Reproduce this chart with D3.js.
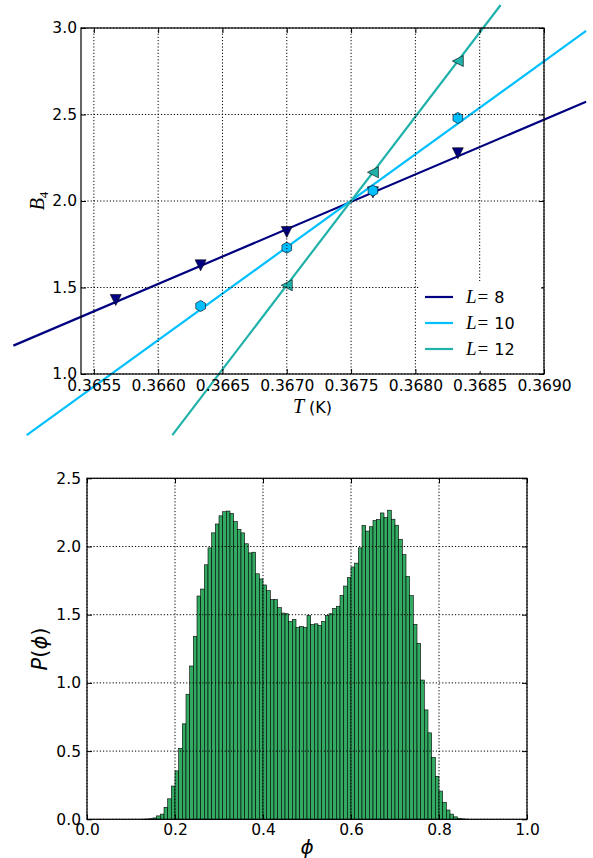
<!DOCTYPE html>
<html><head><meta charset="utf-8">
<script src="https://cdn.jsdelivr.net/npm/d3@7"></script>
<style>
body{margin:0;background:#fff;}
svg{display:block;}
text{font-family:"DejaVu Sans",sans-serif;}
</style></head>
<body>
<svg id="fig" width="593" height="858"></svg>
<script>
// ---------------- DATA ----------------
// Binder cumulant plot
const seriesNames = ["8", "10", "12"];
const T8  = [0.36567, 0.36633, 0.36700, 0.36767, 0.36833];
const B8  = [1.428, 1.628, 1.821, 2.050, 2.276];
const T10 = [0.36633, 0.36700, 0.36767, 0.36833];
const B10 = [1.393, 1.730, 2.060, 2.480];
const T12 = [0.36700, 0.36767, 0.36833];
const B12 = [1.513, 2.166, 2.809];
// fitted straight lines (two end points each)
const fitT8  = [0.364874, 0.369327];
const fitB8  = [1.164, 2.574];
const fitT10 = [0.364978, 0.369327];
const fitB10 = [0.647, 2.983];
const fitT12 = [0.366110, 0.368663];
const fitB12 = [0.647, 3.133];
const tTicks  = [0.3655, 0.3660, 0.3665, 0.3670, 0.3675, 0.3680, 0.3685, 0.3690];
const b4Ticks = [1.0, 1.5, 2.0, 2.5, 3.0];

// Histogram P(phi)
const firstBinLeft = 0.125;
const binWidth = 1 / 120;
const density = [
  0.0005, 0.002, 0.004, 0.010, 0.025, 0.038, 0.088, 0.150, 0.244, 0.355,
  0.520, 0.700, 0.917, 1.124, 1.341, 1.637, 1.688, 1.866, 1.990, 2.100,
  2.165, 2.225, 2.255, 2.260, 2.243, 2.183, 2.126, 2.100, 2.020, 1.953,
  1.958, 1.800, 1.762, 1.718, 1.676, 1.611, 1.611, 1.552, 1.512, 1.507,
  1.450, 1.465, 1.406, 1.413, 1.407, 1.495, 1.428, 1.433, 1.421, 1.450,
  1.495, 1.507, 1.545, 1.562, 1.641, 1.710, 1.772, 1.850, 1.878, 1.990,
  2.155, 2.113, 2.145, 2.190, 2.198, 2.246, 2.213, 2.266, 2.200, 2.156,
  2.053, 1.940, 1.780, 1.640, 1.429, 1.290, 1.021, 0.802, 0.634, 0.454,
  0.315, 0.207, 0.125, 0.068, 0.038, 0.018, 0.007, 0.003, 0.001
];
const phiTicks = [0.0, 0.2, 0.4, 0.6, 0.8, 1.0];
const pTicks   = [0.0, 0.5, 1.0, 1.5, 2.0, 2.5];

// ---------------- DRAW ----------------
const svg = d3.select("#fig");
const TICK = 5, FS = 15.5;

function frame(g, x, y, xt, yt, xfmt, yfmt, xpad, ypad) {
  const [x0, x1] = x.range(), [y0, y1] = y.range();
  const w = x1 - x0, h = y0 - y1;
  g.append("g").attr("transform", `translate(0,${y0})`)
    .call(d3.axisBottom(x).tickValues(xt).tickFormat(xfmt).tickSize(-TICK).tickPadding(xpad));
  g.append("g").attr("transform", `translate(0,${y1})`)
    .call(d3.axisTop(x).tickValues(xt).tickFormat("").tickSize(-TICK));
  g.append("g").attr("transform", `translate(${x0},0)`)
    .call(d3.axisLeft(y).tickValues(yt).tickFormat(yfmt).tickSize(-TICK).tickPadding(ypad));
  g.append("g").attr("transform", `translate(${x1},0)`)
    .call(d3.axisRight(y).tickValues(yt).tickFormat("").tickSize(-TICK));
  g.selectAll(".domain").remove();
  g.selectAll(".tick line").attr("stroke", "#000").attr("stroke-width", 1);
  g.selectAll(".tick text").attr("font-size", FS).attr("fill", "#000")
    .attr("font-family", "DejaVu Sans");
  g.append("rect").attr("x", x0).attr("y", y1).attr("width", w).attr("height", h)
    .attr("fill", "none").attr("stroke", "#000").attr("stroke-width", 1.2);
}
function grid(g, x, y, xt, yt) {
  const [x0, x1] = x.range(), [y0, y1] = y.range();
  const gg = g.append("g").attr("stroke", "#000").attr("stroke-width", 1)
    .attr("stroke-dasharray", "1.2,2");
  xt.forEach(v => gg.append("line").attr("x1", x(v)).attr("x2", x(v)).attr("y1", y0).attr("y2", y1));
  yt.forEach(v => gg.append("line").attr("y1", y(v)).attr("y2", y(v)).attr("x1", x0).attr("x2", x1));
}

// ===== Top chart =====
const topG = svg.append("g");
const xT = d3.scaleLinear().domain([0.3654, 0.3690]).range([81, 544]);
const yB = d3.scaleLinear().domain([1.0, 3.0]).range([374, 28]);
const colors = ["#000080", "#00bfff", "#20b2aa"];
const fits = [[fitT8, fitB8], [fitT10, fitB10], [fitT12, fitB12]];
const pts = [[T8, B8], [T10, B10], [T12, B12]];

const line = d3.line().x(d => xT(d[0])).y(d => yB(d[1]));
fits.forEach((f, i) => {
  topG.append("path").datum(d3.zip(f[0], f[1])).attr("d", line)
    .attr("fill", "none").attr("stroke", colors[i]).attr("stroke-width", 2.2);
});
const s = 11;
const triDown = `M0,${s/2} L${-s/2},${-s/2} L${s/2},${-s/2} Z`;
const triLeft = `M${-s/2},0 L${s/2},${-s/2} L${s/2},${s/2} Z`;
const hexR = 5.6;
const hex = d3.range(6).map(k => {
  const a = -Math.PI / 2 + k * Math.PI / 3;
  return [hexR * Math.cos(a), hexR * Math.sin(a)];
});
const hexPath = "M" + hex.map(p => p.join(",")).join("L") + "Z";
const shapes = [triDown, hexPath, triLeft];
pts.forEach((p, i) => {
  topG.append("g").selectAll("path").data(d3.zip(p[0], p[1])).join("path")
    .attr("d", shapes[i])
    .attr("transform", d => `translate(${xT(d[0])},${yB(d[1])})`)
    .attr("fill", colors[i]).attr("stroke", "#000").attr("stroke-width", 0.6);
});
grid(topG, xT, yB, tTicks, b4Ticks);
frame(topG, xT, yB, tTicks, b4Ticks, d3.format(".4f"), d3.format(".1f"), 6, 4);

// legend
const lg = topG.append("g");
lg.append("rect").attr("x", 420).attr("y", 281).attr("width", 121).attr("height", 90).attr("fill", "#fff");
seriesNames.forEach((nm, i) => {
  const yy = 297 + i * 26;
  lg.append("line").attr("x1", 425).attr("x2", 453).attr("y1", yy).attr("y2", yy)
    .attr("stroke", colors[i]).attr("stroke-width", 2.2);
  const t = lg.append("text").attr("x", 466).attr("y", yy + 6).attr("font-size", 16);
  t.append("tspan").attr("font-family", "Liberation Serif").attr("font-style", "italic")
    .attr("font-size", 19).text("L");
  t.append("tspan").attr("font-family", "Liberation Serif").attr("font-size", 19).attr("dx", 1).text("=");
  t.append("tspan").attr("font-family", "DejaVu Sans").attr("dx", 6).text(nm);
});
const xl = topG.append("text").attr("x", 312.5).attr("y", 413).attr("text-anchor", "middle").attr("font-size", 16);
xl.append("tspan").attr("font-family", "Liberation Serif").attr("font-style", "italic").attr("font-size", 20).text("T");
xl.append("tspan").attr("font-family", "DejaVu Sans").text(" (K)");
const yl = topG.append("text").attr("transform", "translate(44,201) rotate(-90)").attr("text-anchor", "middle");
yl.append("tspan").attr("font-family", "Liberation Serif").attr("font-style", "italic").attr("font-size", 20).text("B");
yl.append("tspan").attr("font-family", "Liberation Serif").attr("font-size", 13).attr("dy", 4).text("4");

// ===== Bottom chart =====
const botG = svg.append("g");
const xP = d3.scaleLinear().domain([0, 1]).range([87, 527]);
const yP = d3.scaleLinear().domain([0, 2.5]).range([819.3, 478.3]);
botG.append("g").selectAll("rect").data(density).join("rect")
  .attr("x", (d, i) => xP(firstBinLeft + i * binWidth))
  .attr("width", (d, i) => xP(firstBinLeft + (i + 1) * binWidth) - xP(firstBinLeft + i * binWidth))
  .attr("y", d => yP(d))
  .attr("height", d => yP(0) - yP(d))
  .attr("fill", "#33aa62").attr("stroke", "#000").attr("stroke-width", 0.6);
grid(botG, xP, yP, phiTicks, pTicks);
frame(botG, xP, yP, phiTicks, pTicks, d3.format(".1f"), d3.format(".1f"), 5, 6);
botG.append("text").attr("x", 307).attr("y", 854).attr("text-anchor", "middle")
  .attr("font-family", "Liberation Serif").attr("font-style", "italic").attr("font-size", 20).text("ϕ");
const pl = botG.append("text").attr("transform", "translate(47,649) rotate(-90)").attr("text-anchor", "middle")
  .attr("font-family", "Liberation Serif").attr("font-size", 21);
pl.append("tspan").attr("font-style", "italic").text("P");
pl.append("tspan").text("(");
pl.append("tspan").attr("font-style", "italic").text("ϕ");
pl.append("tspan").text(")");
</script>
</body></html>
